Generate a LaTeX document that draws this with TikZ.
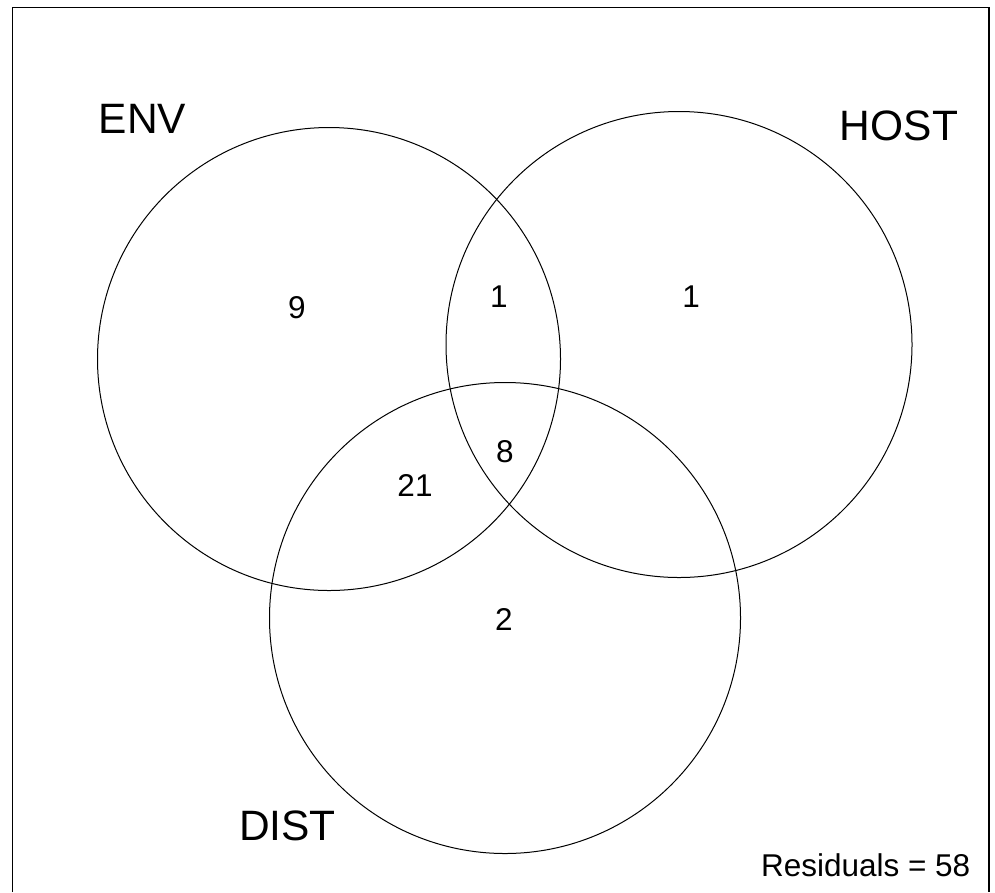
\documentclass[tikz,border=0pt]{standalone}
\usepackage{fontspec}
\setmainfont{Liberation Sans}
\tikzset{
  setcircle/.style={draw=black, line width=1pt, circle, inner sep=0pt},
  setlabel/.style={anchor=base, inner sep=0pt, font=\fontsize{42.5}{50}\selectfont},
  countlabel/.style={anchor=base, inner sep=0pt, font=\fontsize{31.5}{38}\selectfont},
}
\begin{document}
\begin{tikzpicture}[x=1pt, y=-1pt]
\useasboundingbox (0,0) rectangle (995,892);
\fill[white] (0,0) rectangle (995,892);
% frame
\coordinate (fbl) at (12.5,892);
\coordinate (ftl) at (12.5,7.5);
\coordinate (ftr) at (989,7.5);
\coordinate (fbr) at (989,892);
\draw[line width=1.2pt] (fbl) -- (ftl) -- (ftr) -- (fbr);
% circles
\node[setcircle, minimum size=463pt] (env) at (329,359) {};
\node[setcircle, minimum size=466pt] (host) at (679,344.5) {};
\node[setcircle, minimum size=471pt] (dist) at (505,618) {};
% set labels
\node[setlabel] (lenv) at (142.5,133.5) {ENV};
\node[setlabel] (lhost) at (899,140.5) {HOST};
\node[setlabel] (ldist) at (287.5,840) {DIST};
% counts
\node[countlabel] (c9) at (297,318) {9};
\node[countlabel] (c1a) at (499,307.5) {1};
\node[countlabel] (c1b) at (691,307) {1};
\node[countlabel] (c8) at (505,462) {8};
\node[countlabel] (c21) at (415,496) {21};
\node[countlabel] (c2) at (504,630) {2};
\node[anchor=base east, inner sep=0pt, font=\fontsize{31.5}{38}\selectfont] (res) at (970.5,876) {Residuals = 58};
\end{tikzpicture}
\end{document}
